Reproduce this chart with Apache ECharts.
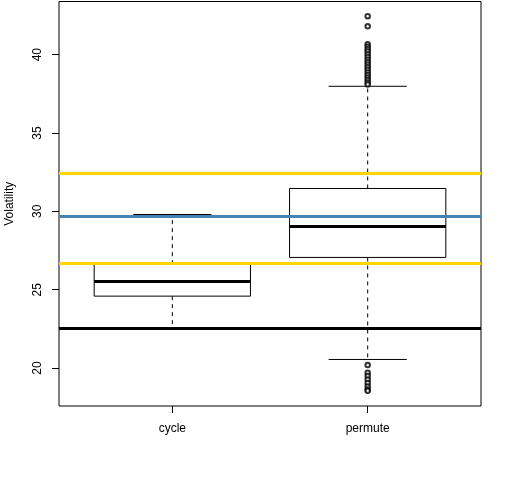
<!DOCTYPE html>
<html>
<head>
<meta charset="utf-8">
<script src="https://cdn.jsdelivr.net/npm/echarts@6/dist/echarts.min.js"></script>
<style>
  html, body { margin: 0; padding: 0; background: #fff; }
  #chart { width: 512px; height: 480px; }
</style>
</head>
<body>
<div id="chart"></div>
<script>
// categories and box statistics
const categories = ['cycle', 'permute'];
// [min, q1, median, q3, max] per category
const boxStats = [
    [22.53, 24.59, 25.53, 26.63, 29.80],
    [20.55, 27.06, 29.04, 31.46, 37.98]
];
// outliers of 'permute'
const permuteOutliers = [
    42.45, 41.81, 40.66, 40.50, 40.35, 40.20, 40.02, 39.85, 39.68, 39.52,
    39.36, 39.20, 39.03, 38.86, 38.70, 38.54, 38.38, 38.22, 38.10,
    20.19, 19.70, 19.49, 19.27, 19.04, 18.82, 18.63, 18.55
];
// reference lines
const refLineValues = [32.42, 29.67, 26.68, 22.53];
const refLineColors = ['#FFD700', '#4682B4', '#FFD700', '#000000'];
const yTicks = [20, 25, 30, 35, 40];

const boxData = boxStats.map((s, i) => [i + 1].concat(s));
const outlierData = permuteOutliers.map(v => [2, v]);

function renderBox(params, api) {
    const x = api.value(0);
    const lo = api.coord([x, api.value(1)]);
    const q1 = api.coord([x, api.value(2)]);
    const med = api.coord([x, api.value(3)]);
    const q3 = api.coord([x, api.value(4)]);
    const hi = api.coord([x, api.value(5)]);
    const left = api.coord([x - 0.4, 0])[0];
    const right = api.coord([x + 0.4, 0])[0];
    const capL = api.coord([x - 0.2, 0])[0];
    const capR = api.coord([x + 0.2, 0])[0];
    const cx = lo[0];
    const thin = { stroke: '#000', lineWidth: 1, fill: null };
    const dashed = { stroke: '#000', lineWidth: 1, lineDash: [4, 4] };
    return {
        type: 'group',
        children: [
            { type: 'line', shape: { x1: cx, y1: q3[1], x2: cx, y2: hi[1] }, style: dashed },
            { type: 'line', shape: { x1: cx, y1: q1[1], x2: cx, y2: lo[1] }, style: dashed },
            { type: 'line', shape: { x1: capL, y1: hi[1], x2: capR, y2: hi[1] }, style: thin },
            { type: 'line', shape: { x1: capL, y1: lo[1], x2: capR, y2: lo[1] }, style: thin },
            { type: 'rect', shape: { x: left, y: q3[1], width: right - left, height: q1[1] - q3[1] }, style: { stroke: '#000', lineWidth: 1, fill: '#fff' } },
            { type: 'line', shape: { x1: left, y1: med[1], x2: right, y2: med[1] }, style: { stroke: '#000', lineWidth: 3 } }
        ]
    };
}

const chart = echarts.init(document.getElementById('chart'));
const option = {
    animation: false,
    textStyle: { fontFamily: 'Liberation Sans, Arial, sans-serif' },
    grid: {
        left: 59, top: 1.5, right: 31, bottom: 74,
        outerBoundsMode: 'none',
        containLabel: false,
        show: true, borderColor: '#000', borderWidth: 1, backgroundColor: 'transparent'
    },
    xAxis: {
        type: 'value',
        min: 0.42,
        max: 2.58,
        splitLine: { show: false },
        axisLine: { show: false },
        axisTick: { show: true, length: 7, lineStyle: { color: '#000' }, customValues: [1, 2] },
        axisLabel: {
            color: '#000', fontSize: 12, margin: 17,
            customValues: [1, 2],
            formatter: v => categories[Math.round(v) - 1] || ''
        }
    },
    yAxis: {
        type: 'value',
        min: 17.58,
        max: 43.39,
        name: 'Volatility',
        nameLocation: 'middle',
        nameGap: 43,
        nameTextStyle: { color: '#000', fontSize: 12 },
        splitLine: { show: false },
        axisLine: { show: false },
        axisTick: { show: true, length: 7, lineStyle: { color: '#000' }, customValues: yTicks },
        axisLabel: { color: '#000', fontSize: 12, rotate: 90, margin: 15, customValues: yTicks }
    },
    series: [
        {
            type: 'custom',
            renderItem: renderBox,
            data: boxData,
            encode: { x: 0, y: [1, 2, 3, 4, 5] },
            clip: true,
            z: 2
        },
        {
            type: 'scatter',
            data: outlierData,
            symbol: 'emptyCircle',
            symbolSize: 4.5,
            itemStyle: { color: '#000', borderColor: '#000', borderWidth: 0.8 },
            z: 3,
            markLine: {
                silent: true,
                symbol: 'none',
                label: { show: false },
                data: refLineValues.map((v, i) => ({
                    yAxis: v,
                    lineStyle: { color: refLineColors[i], width: 3, type: 'solid' }
                }))
            }
        }
    ]
};
chart.setOption(option);
</script>
</body>
</html>
